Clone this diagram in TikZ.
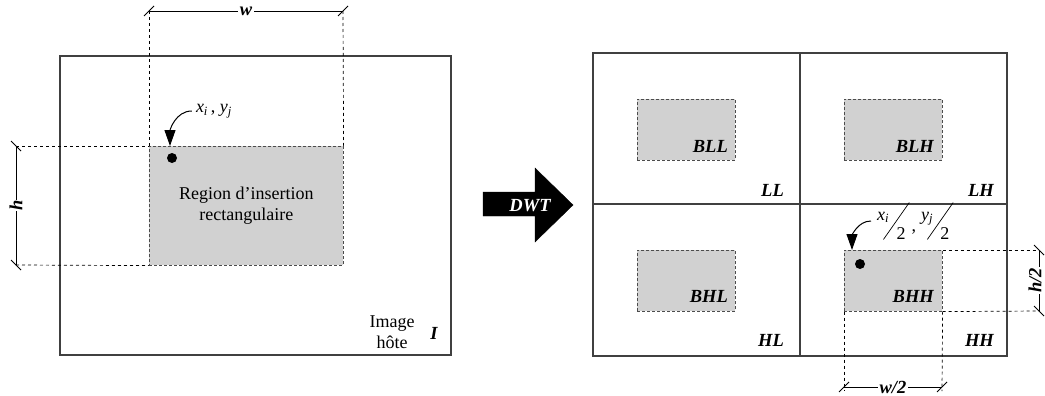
\documentclass[tikz,border=0pt]{standalone}
\usepackage{fontspec}
\setmainfont{Liberation Serif}
\usetikzlibrary{arrows.meta}

\newcommand\halfof[2]{\raisebox{19pt}{\textit{#1}\textsubscript{\textit{#2}}}\kern-6pt\rotatebox{-35}{\rule{0.7pt}{45pt}}\kern-13pt 2}

\begin{document}
\begin{tikzpicture}[x=1pt,y=-1pt,font=\fontsize{18}{21}\selectfont]
	\tikzset{frame/.style={draw=black!75, line width=1.3pt},
			zone/.style={draw=black!70, densely dashed, line width=0.6pt, fill=black!18, inner sep=0pt, anchor=north west},
			guide/.style={draw=black, dashed, line width=0.7pt},
			dimline/.style={draw=black, line width=0.8pt},
			band/.style={font=\fontsize{18.5}{21}\selectfont\bfseries\itshape, anchor=east, inner sep=0pt},
			point/.style={circle, fill=black, inner sep=0pt, minimum size=10pt},
			pointer/.style={-{Triangle[length=16pt,width=11pt]}, line width=1pt}}
	\useasboundingbox (0,0) rectangle (1045,396);

	\draw[frame] (60,56) rectangle (451,355);
	\node[zone, minimum width=194pt, minimum height=119pt, align=center] (roi) at (149,146) {Region d’insertion\\rectangulaire};
	\node[point] (pt) at (172,158) {};
	\node[inner sep=4pt] (xy) at (214,111) {\textit{x}\textsubscript{\textit{i}}\,, \textit{y}\textsubscript{\textit{j}}};
	\coordinate (tipA) at (170,146);
	\draw[pointer] (xy.west) to[out=180,in=90] (tipA);
	\node[align=center, inner sep=0pt] (hote) at (392,332) {Image\\hôte};
	\node[band, anchor=center] (I) at (434,333) {I};

	\coordinate (w1) at (149,11);
	\coordinate (w2) at (343,11);
	\draw[guide] (w1) -- (roi.north west);
	\draw[guide] (w2) -- (roi.north east);
	\draw[dimline] (w1) -- node[band, anchor=center, fill=white, inner xsep=2pt] (wlab) {w} (w2);
	\draw[dimline] ([shift={(-5,5)}]w1) -- ([shift={(5,-5)}]w1);
	\draw[dimline] ([shift={(-5,5)}]w2) -- ([shift={(5,-5)}]w2);

	\coordinate (h1) at (16,146);
	\coordinate (h2) at (16,265);
	\draw[guide] (h1) -- (roi.north west);
	\draw[guide] (h2) -- (roi.south west);
	\draw[dimline] (h1) -- node[band, anchor=center, fill=white, inner ysep=2pt, rotate=90] (hlab) {h} (h2);
	\draw[dimline] ([shift={(-5,-5)}]h1) -- ([shift={(5,5)}]h1);
	\draw[dimline] ([shift={(-5,-5)}]h2) -- ([shift={(5,5)}]h2);

	\draw[fill=black] (483,192) -- (535,192) -- (535,168) -- (573,205) -- (535,242) -- (535,216) -- (483,216) -- cycle;
	\node[band, anchor=center, text=white] (dwt) at (530,206) {DWT};

	\draw[frame] (593,53) rectangle (1007,356);
	\draw[frame] (800,53) -- (800,356);
	\draw[frame] (593,204) -- (1007,204);
	\node[zone, minimum width=98pt, minimum height=61pt] (bll) at (637,99) {};
	\node[zone, minimum width=98pt, minimum height=61pt] (blh) at (844,99) {};
	\node[zone, minimum width=98pt, minimum height=61pt] (bhl) at (637,250) {};
	\node[zone, minimum width=98pt, minimum height=61pt] (bhh) at (844,250) {};
	\node[band] (bll-t) at (728,146) {BLL};
	\node[band] (blh-t) at (934,146) {BLH};
	\node[band] (bhl-t) at (728,296) {BHL};
	\node[band] (bhh-t) at (934,296) {BHH};
	\node[band] (ll-t) at (784,190) {LL};
	\node[band] (lh-t) at (994,190) {LH};
	\node[band] (hl-t) at (784,340) {HL};
	\node[band] (hh-t) at (994,340) {HH};

	\node[point] (pt2) at (860,264) {};
	\node[inner sep=0pt, anchor=west] (hhlab) at (877,221) {\halfof{x}{i}\kern6pt\raisebox{8pt}{,}\kern5pt\halfof{y}{j}};
	\coordinate (tipB) at (852,250);
	\draw[pointer] ([xshift=-6pt]hhlab.west) to[out=180,in=90] (tipB);

	\coordinate (v1) at (844,387);
	\coordinate (v2) at (942,387);
	\draw[guide] (bhh.south west) -- ([yshift=-4pt]v1);
	\draw[guide] (bhh.south east) -- ([yshift=-4pt]v2);
	\draw[dimline] (v1) -- node[band, anchor=center, fill=white, inner ysep=1pt, inner xsep=2pt] (v-lab) {w/2} (v2);
	\draw[dimline] ([shift={(-5,5)}]v1) -- ([shift={(5,-5)}]v1);
	\draw[dimline] ([shift={(-5,5)}]v2) -- ([shift={(5,-5)}]v2);

	\coordinate (u1) at (1039,250);
	\coordinate (u2) at (1039,311);
	\draw[guide] (bhh.north east) -- (u1);
	\draw[guide] (bhh.south east) -- (u2);
	\draw[dimline] (u1) -- node[band, anchor=center, fill=white, inner ysep=0pt, inner xsep=1pt, rotate=90, yshift=4pt] (u-lab) {h/2} (u2);
	\draw[dimline] ([shift={(-5,-5)}]u1) -- ([shift={(5,5)}]u1);
	\draw[dimline] ([shift={(-5,-5)}]u2) -- ([shift={(5,5)}]u2);
\end{tikzpicture}
\end{document}
